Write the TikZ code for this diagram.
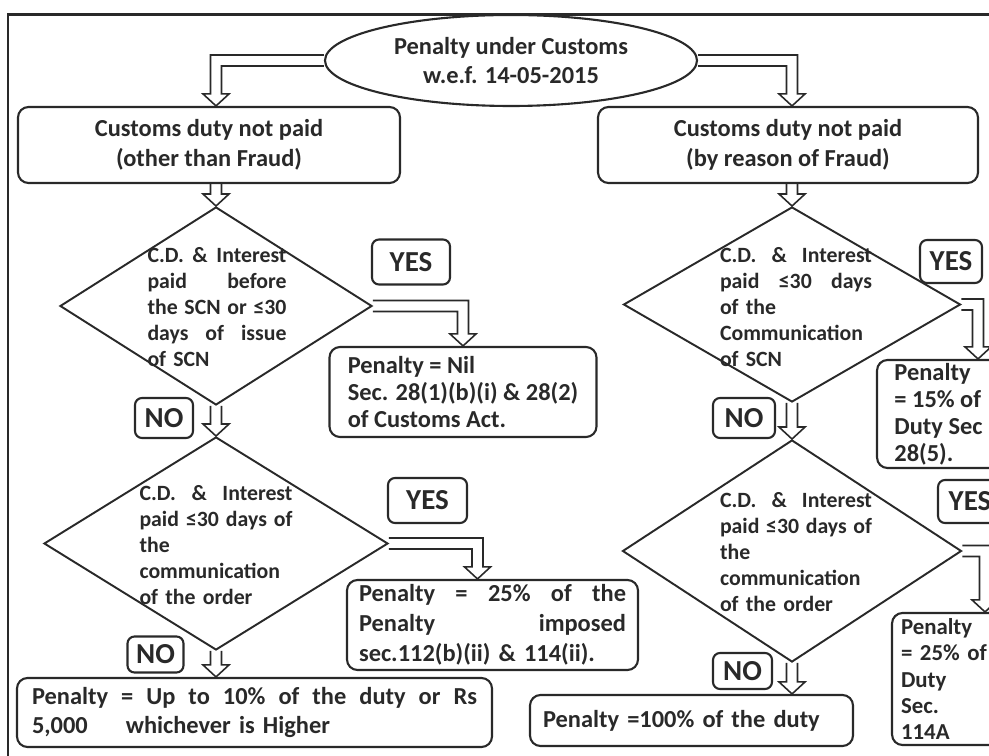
\documentclass[tikz,border=0pt]{standalone}
\usepackage{fontspec}
\setmainfont{Carlito}
\usetikzlibrary{shapes.geometric,calc}
\definecolor{inkgray}{rgb}{0.16,0.16,0.16}
\newlength{\pxu}\setlength{\pxu}{0.02cm}
\newlength{\arrshaft}\setlength{\arrshaft}{5.5\pxu}
\newlength{\arrheadw}\setlength{\arrheadw}{13\pxu}
\newlength{\arrheadl}\setlength{\arrheadl}{12\pxu}
% one justified line, #1 = width in pixels
\newcommand{\jl}[2]{{\spaceskip0pt\xspaceskip0pt\makebox[#1\pxu][s]{#2}}}

\begin{document}
\begin{tikzpicture}[x=\pxu,y=-\pxu,inkgray,line width=1.2pt,
    txt/.style={font=\fontsize{13.9}{17}\selectfont\bfseries},
    ell/.style={ellipse,draw,inner sep=0pt,align=center,txt},
    box/.style={draw,rounded corners=6pt,inner sep=0pt,align=center,txt},
    pbox/.style={draw,rounded corners=6pt,inner ysep=0pt,align=left,font={\fontsize{13.9}{15.3}\selectfont\bfseries\parindent0pt}},
    tag/.style={draw,rounded corners=4pt,inner sep=0pt,font=\fontsize{16.5}{17}\selectfont\bfseries},
    dia/.style={diamond,draw,inner sep=0pt,line width=1.1pt},
    dtxt/.style={align=left,inner sep=0pt,font={\fontsize{12.4}{14.9}\selectfont\bfseries\parindent0pt}},
    hollow/.style={line width=0.9pt},
    hdown/.style={to path={let \p1=(\tikztostart),\p2=(\tikztotarget) in
      (\x2-\arrshaft,\y1) -- (\x2-\arrshaft,\y2+\arrheadl) -- (\x2-\arrheadw,\y2+\arrheadl) -- (\x2,\y2)
      -- (\x2+\arrheadw,\y2+\arrheadl) -- (\x2+\arrshaft,\y2+\arrheadl) -- (\x2+\arrshaft,\y1)}},
    hleft/.style={to path={let \p1=(\tikztostart),\p2=(\tikztotarget) in
      (\x1,\y1+\arrshaft) -- (\x2-\arrshaft,\y1+\arrshaft) -- (\x2-\arrshaft,\y2+\arrheadl) -- (\x2-\arrheadw,\y2+\arrheadl) -- (\x2,\y2)
      -- (\x2+\arrheadw,\y2+\arrheadl) -- (\x2+\arrshaft,\y2+\arrheadl) -- (\x2+\arrshaft,\y1-\arrshaft) -- (\x1,\y1-\arrshaft)}},
    hright/.style={to path={let \p1=(\tikztostart),\p2=(\tikztotarget) in
      (\x1,\y1+\arrshaft) -- (\x2+\arrshaft,\y1+\arrshaft) -- (\x2+\arrshaft,\y2+\arrheadl) -- (\x2+\arrheadw,\y2+\arrheadl) -- (\x2,\y2)
      -- (\x2-\arrheadw,\y2+\arrheadl) -- (\x2-\arrshaft,\y2+\arrheadl) -- (\x2-\arrshaft,\y1-\arrshaft) -- (\x1,\y1-\arrshaft)}}]
    \useasboundingbox (0,0) rectangle (989,756);
    \clip (0,0) rectangle (989,756);
    \draw (8,756) -- (8,14.5) -- (989,14.5);
    % title and the two cases
    \node[ell,minimum width=372\pxu,minimum height=91\pxu] (ell) at (511,60.5) {Penalty under Customs\\w.e.f. 14-05-2015};
    \node[box,minimum width=382\pxu,minimum height=76\pxu] (lbox) at (209,145) {Customs duty not paid\\(other than Fraud)};
    \node[box,minimum width=380\pxu,minimum height=76\pxu] (rbox) at (788,145) {Customs duty not paid\\(by reason of Fraud)};
    % left column
    \node[dia,minimum width=312\pxu,minimum height=198\pxu] (ldia1) at (216,306) {};
    \node[dtxt,text width=139\pxu] (ldia1txt) at (217,307) {\jl{139}{C.D. \& Interest}\\\jl{139}{paid before}\\\jl{139}{the SCN or ≤30}\\\jl{139}{days of issue}\\of SCN};
    \node[tag,minimum width=78\pxu,minimum height=45\pxu] (yes1) at (411,262) {YES};
    \node[pbox,minimum width=267\pxu,minimum height=90\pxu] (pnil) at (463,392) {Penalty = Nil\\Sec. 28(1)(b)(i) \& 28(2)\\of Customs Act.};
    \node[tag,minimum width=58\pxu,minimum height=40\pxu] (no1) at (164,418) {NO};
    \node[dia,minimum width=344\pxu,minimum height=213\pxu] (ldia2) at (216,543.5) {};
    \node[dtxt,text width=153\pxu] (ldia2txt) at (216,545) {\jl{153}{C.D. \& Interest}\\\jl{153}{paid ≤30 days of}\\the\\communication\\of the order};
    \node[tag,minimum width=79\pxu,minimum height=45\pxu] (yes2) at (427.5,500.5) {YES};
    \node[pbox,text width=267\pxu,inner xsep=12\pxu,minimum height=90\pxu,font={\fontsize{13.9}{17}\selectfont\bfseries\parindent0pt}] (p25) at (492.5,625) {\jl{267}{Penalty = 25\% of the}\\\jl{267}{Penalty imposed}\\\mbox{sec.112(b)(ii) \& 114(ii).}};
    \node[tag,minimum width=56\pxu,minimum height=36\pxu] (no2) at (155.5,654.5) {NO};
    \node[pbox,text width=445\pxu,inner xsep=15\pxu,minimum height=69\pxu,font={\fontsize{13.9}{17}\selectfont\bfseries\parindent0pt}] (pbot) at (254.5,712.5) {\jl{445}{Penalty = Up to 10\% of the duty or Rs}\\5,000\hspace{38\pxu}whichever is Higher};
    % right column
    \node[dia,minimum width=337\pxu,minimum height=195\pxu] (rdia1) at (792,304.5) {};
    \node[dtxt,text width=152\pxu] (rdia1txt) at (796,307) {\jl{152}{C.D. \& Interest}\\\jl{152}{paid ≤30 days}\\of the\\Communication\\of SCN};
    \node[tag,minimum width=62\pxu,minimum height=43\pxu] (yes3) at (951,261.5) {YES};
    \node[pbox,minimum width=123\pxu,minimum height=108\pxu] (p15) at (938.5,414) {Penalty\\= 15\% of\\Duty Sec\\28(5).};
    \node[tag,minimum width=62\pxu,minimum height=40\pxu] (no3) at (744,418) {NO};
    \node[dia,minimum width=339\pxu,minimum height=222\pxu] (rdia2) at (792,551) {};
    \node[dtxt,text width=152\pxu] (rdia2txt) at (796,552) {\jl{152}{C.D. \& Interest}\\\jl{152}{paid ≤30 days of}\\the\\communication\\of the order};
    \node[tag,minimum width=64\pxu,minimum height=43\pxu] (yes4) at (970,501.5) {YES};
    \node[pbox,text width=96\pxu,inner xsep=9\pxu,minimum height=132\pxu,font={\fontsize{13}{15}\selectfont\bfseries\parindent0pt}] (p25r) at (949,679) {Penalty\\= 25\% of\\Duty\\Sec.\\114A};
    \node[tag,minimum width=59\pxu,minimum height=36\pxu] (no4) at (742.5,671) {NO};
    \node[pbox,text width=297\pxu,inner xsep=13\pxu,minimum height=51\pxu] (rbot) at (691.5,720.5) {Penalty =100\% of the duty};
    % arrow ends
    \coordinate (lin) at (ldia1.north |- lbox.north);
    \coordinate (rin) at (rdia1.north |- rbox.north);
    \coordinate (lout) at (lbox.south -| ldia1.north);
    \coordinate (rout) at (rbox.south -| rdia1.north);
    \coordinate (lend) at (pbot.north -| ldia2.south);
    \coordinate (rend) at (rbot.north -| rdia2.south);
    \coordinate (p25in) at ([xshift=-15\pxu]p25.north);
    \coordinate (p15in) at ([xshift=39.5\pxu]p15.north);
    \coordinate (p25rin) at ([xshift=36\pxu]p25r.north);
    \draw[hollow] (ell.west) to[hleft] (lin); \draw[hollow] (ell.east) to[hright] (rin);
    \draw[hollow] (lout) to[hdown] (ldia1.north); \draw[hollow] (rout) to[hdown] (rdia1.north);
    \draw[hollow] (ldia1.east) to[hright] (pnil.north); \draw[hollow] (ldia1.south) to[hdown] (ldia2.north);
    \draw[hollow] (ldia2.east) to[hright] (p25in); \draw[hollow] (ldia2.south) to[hdown] (lend);
    \draw[hollow] (rdia1.east) to[hright] (p15in); \draw[hollow] (rdia1.south) to[hdown] (rdia2.north);
    \draw[hollow] (rdia2.east) to[hright] (p25rin); \draw[hollow] (rdia2.south) to[hdown] (rend);
\end{tikzpicture}
\end{document}
